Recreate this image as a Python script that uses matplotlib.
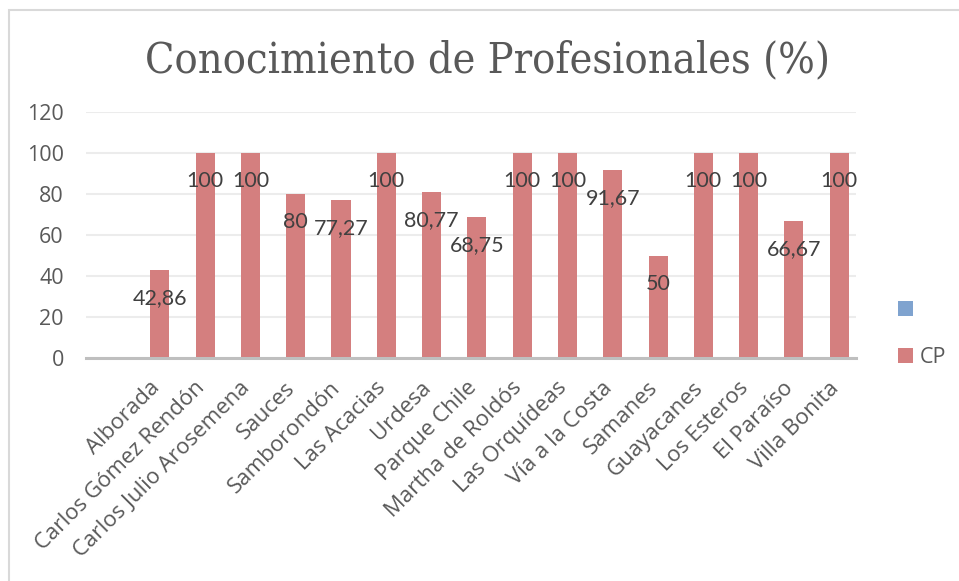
import numpy as np
import matplotlib
matplotlib.use("Agg")
import matplotlib.pyplot as plt
import matplotlib.transforms as mtransforms
from matplotlib.patches import Rectangle, Patch

categories = ["", "Alborada", "Carlos Gómez Rendón", "Carlos Julio Arosemena", "Sauces",
              "Samborondón", "Las Acacias", "Urdesa", "Parque Chile", "Martha de Roldós",
              "Las Orquídeas", "Vía a la Costa", "Samanes", "Guayacanes", "Los Esteros",
              "El Paraíso", "Villa Bonita"]
cp_values = [np.nan, 42.86, 100, 100, 80, 77.27, 100, 80.77, 68.75, 100, 100,
             91.67, 50, 100, 100, 66.67, 100]
cp_labels = ["", "42,86", "100", "100", "80", "77,27", "100", "80,77", "68,75", "100",
             "100", "91,67", "50", "100", "100", "66,67", "100"]
series_names = [" ", "CP"]
yticks = [0, 20, 40, 60, 80, 100, 120]
title = "Conocimiento de Profesionales (%)"

W, H = 959, 581
fig = plt.figure(figsize=(W / 100, H / 100), dpi=100)
fig.patch.set_facecolor("white")

# outer chart border
fig.add_artist(Rectangle((8.5 / W, -0.05), 1.2, 1 - 9.5 / H + 0.05, transform=fig.transFigure,
                         fill=False, edgecolor="#d9d9d9", lw=1.5))

ax = fig.add_axes([86 / W, (H - 358) / H, 770 / W, 246 / H])
blue = "#7fa3cf"
red = "#d47f7f"
x = np.arange(len(categories))
ax.bar(x + 0.13, cp_values, width=0.42, color=red, zorder=3)
ax.set_xlim(-0.5, len(categories) - 0.5)
ax.set_ylim(0, 120)
ax.set_yticks(yticks)
ax.set_yticklabels([str(v) for v in yticks], fontfamily="Open Sans", fontsize=15.5, color="#595959")
ax.tick_params(axis="y", length=0, pad=16)
ax.set_xticks(x)
ax.set_xticklabels(categories, rotation=45, ha="right", va="top", rotation_mode="anchor",
                   fontfamily="Open Sans", fontsize=16, color="#595959")
ax.tick_params(axis="x", length=0, pad=14)
shift = mtransforms.ScaledTranslation(-5 / 100, 0, fig.dpi_scale_trans)
for t in ax.get_xticklabels():
    t.set_transform(t.get_transform() + shift)
for s in ["left", "right", "top"]:
    ax.spines[s].set_visible(False)
ax.spines["bottom"].set_color("#bfbfbf")
ax.spines["bottom"].set_linewidth(2.2)
ax.spines["bottom"].set_zorder(4)
ax.grid(axis="y", color="#ececec", lw=1.5, zorder=0)
ax.set_axisbelow(True)

for xi, v, lab in zip(x, cp_values, cp_labels):
    if lab:
        ax.annotate(lab, (xi + 0.13, v), xytext=(0, -28), textcoords="offset pixels",
                    ha="center", va="center", fontfamily="Lato", fontsize=15.5,
                    color="#404040", zorder=5)

fig.text(487.5 / W, 1 - 72 / H, title, ha="center", va="baseline",
         fontfamily="DejaVu Serif", fontstretch="condensed", fontsize=31, color="#595959")

handles = [Patch(facecolor=blue), Patch(facecolor=red)]
fig.legend(handles, series_names, loc="center left", bbox_to_anchor=(879 / W, 1 - 334 / H),
           frameon=False, handlelength=0.7, handleheight=0.7, handletextpad=0.3,
           labelspacing=1.2, prop={"family": "Open Sans", "size": 15.5}, labelcolor="#595959")

fig.savefig("out.png", dpi=100, facecolor="white")
